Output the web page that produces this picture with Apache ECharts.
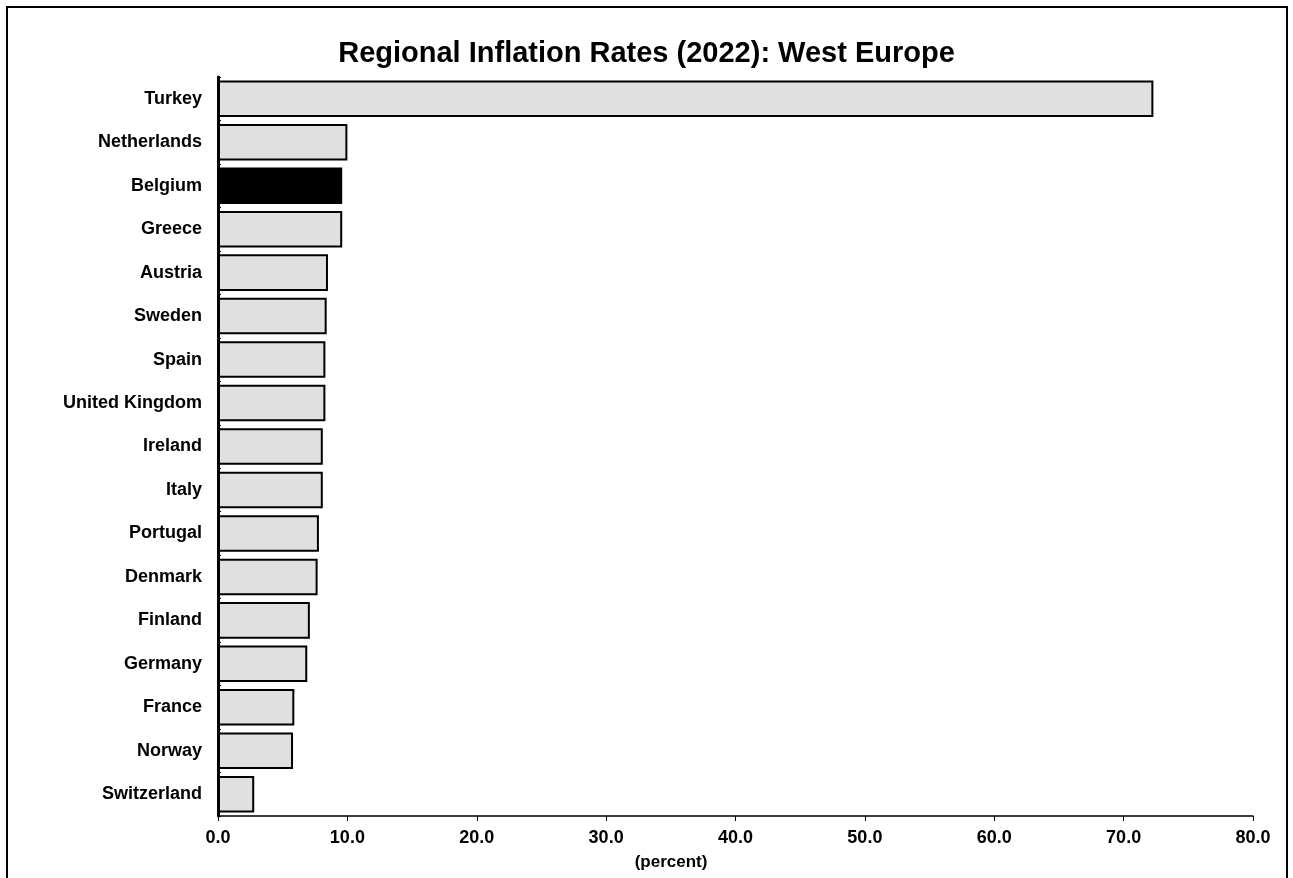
<!DOCTYPE html>
<html>
<head>
<meta charset="utf-8">
<script src="https://cdn.jsdelivr.net/npm/echarts@6/dist/echarts.min.js"></script>
<style>
  html, body { margin: 0; padding: 0; background: #fff; }
  #chart { width: 1293px; height: 878px; }
</style>
</head>
<body>
<div id="chart"></div>
<script>
// Inflation rates, 2022, West Europe (percent), highest first
const countries = ['Turkey', 'Netherlands', 'Belgium', 'Greece', 'Austria', 'Sweden', 'Spain',
  'United Kingdom', 'Ireland', 'Italy', 'Portugal', 'Denmark', 'Finland', 'Germany',
  'France', 'Norway', 'Switzerland'];
const inflation = [72.3, 10.0, 9.6, 9.6, 8.5, 8.4, 8.3, 8.3, 8.1, 8.1, 7.8, 7.7, 7.1, 6.9, 5.9, 5.8, 2.8];
const highlighted = 'Belgium';
const xTicks = { min: 0, max: 80, interval: 10 };
const unitLabel = '(percent)';

const FONT = '"Liberation Sans", Arial, sans-serif';

const chart = echarts.init(document.getElementById('chart'), null, { renderer: 'canvas' });

// category axis runs top to bottom, so reverse for ECharts' bottom-up ordering
const cats = countries.slice().reverse();
const vals = inflation.slice().reverse().map((v, i) => ({
  value: v,
  itemStyle: {
    color: cats[i] === highlighted ? '#000000' : '#e0e0e0',
    borderColor: '#000000',
    borderWidth: 2
  }
}));

chart.setOption({
  animation: false,
  backgroundColor: '#ffffff',
  graphic: [{
    type: 'rect',
    shape: { x: 7, y: 7, width: 1280, height: 900 },
    style: { fill: 'none', stroke: '#000', lineWidth: 2 },
    silent: true
  }, {
    // unit caption under the value axis
    type: 'text',
    x: 671,
    y: 862,
    style: {
      text: unitLabel,
      fontFamily: FONT, fontWeight: 'bold', fontSize: 17, fill: '#000',
      align: 'center', verticalAlign: 'middle'
    },
    silent: true
  }],
  title: {
    text: 'Regional Inflation Rates (2022): West Europe',
    left: 'center',
    top: 34,
    textStyle: { fontFamily: FONT, fontWeight: 'bold', fontSize: 29, color: '#000' }
  },
  grid: {
    left: 218, right: 40, top: 77, bottom: 62,
    containLabel: false,
    outerBoundsMode: 'none'
  },
  xAxis: {
    type: 'value',
    min: xTicks.min,
    max: xTicks.max,
    interval: xTicks.interval,
    axisLine: { show: true, lineStyle: { color: '#000', width: 1.5 } },
    axisTick: { show: true, length: 5, lineStyle: { color: '#000', width: 1 } },
    axisLabel: {
      margin: 13,
      fontFamily: FONT, fontWeight: 'bold', fontSize: 18, color: '#000',
      formatter: v => v.toFixed(1)
    },
    splitLine: { show: false }
  },
  yAxis: {
    type: 'category',
    data: cats,
    axisLine: { show: true, lineStyle: { color: '#000', width: 3 } },
    axisTick: { show: true, inside: true, length: 3, lineStyle: { color: '#000', width: 1 } },
    axisLabel: {
      margin: 16,
      fontFamily: FONT, fontWeight: 'bold', fontSize: 18, color: '#000'
    }
  },
  series: [{
    type: 'bar',
    data: vals,
    barCategoryGap: '16%',
    z: 3
  }]
});
</script>
</body>
</html>
